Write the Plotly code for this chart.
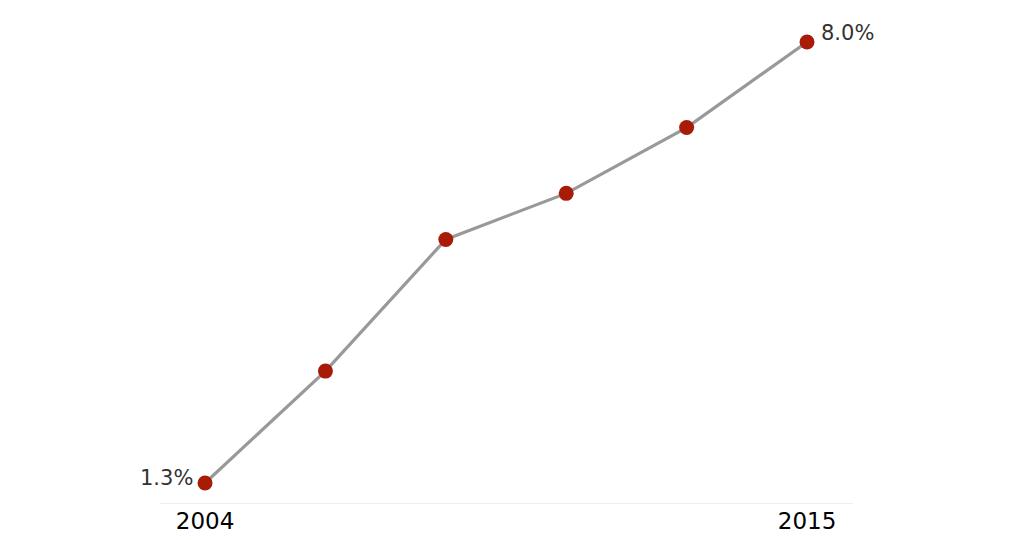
import plotly.graph_objects as go

positions = [0, 1, 2, 3, 4, 5]
values = [1.3, 3.0, 5.0, 5.7, 6.7, 8.0]
tick_positions = [0, 5]
tick_labels = ["2004", "2015"]

FONT = "DejaVu Sans, Liberation Sans, Arial, sans-serif"

fig = go.Figure()
fig.add_trace(go.Scatter(
    x=positions, y=values, mode="lines+markers",
    line=dict(color="#999999", width=3.2),
    marker=dict(color="#a81c07", size=15),
    hoverinfo="skip", showlegend=False,
))

fig.add_annotation(x=positions[0], y=values[0], text=f"{values[0]:.1f}%",
                   showarrow=False, xanchor="right", xshift=-10, yshift=5,
                   font=dict(size=21, color="#333333", family=FONT))
fig.add_annotation(x=positions[-1], y=values[-1], text=f"{values[-1]:.1f}%",
                   showarrow=False, xanchor="left", xshift=12, yshift=9,
                   font=dict(size=21, color="#333333", family=FONT))

fig.update_layout(
    width=1020, height=540,
    margin=dict(l=152, r=175, t=12, b=45),
    paper_bgcolor="white", plot_bgcolor="white",
    font=dict(family=FONT, color="#000000"),
    xaxis=dict(range=[-0.374, 5.382], tickvals=tick_positions, ticktext=tick_labels,
               showgrid=False, zeroline=False, showline=True, linecolor="#eeeeee",
               linewidth=1, ticks="", ticklabelstandoff=-3,
               tickfont=dict(size=23, color="#000000")),
    yaxis=dict(range=[0.996, 8.334], visible=False, showgrid=False, zeroline=False),
)

fig.write_html("out.html")
